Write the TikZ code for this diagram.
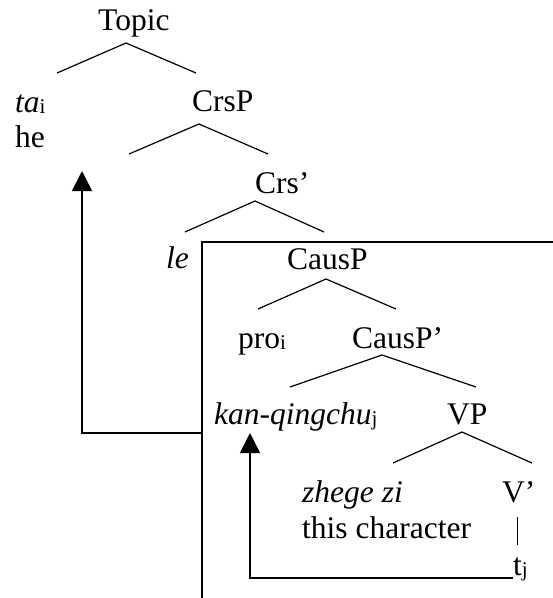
\documentclass[tikz,border=0pt]{standalone}
\usepackage{fontspec}
\setmainfont{Liberation Serif}
\usepackage{tikz}
\usetikzlibrary{arrows.meta}

\newcommand{\idx}[1]{\raisebox{-1.5pt}{\fontsize{21}{21}\selectfont #1}}

\begin{document}
\begin{tikzpicture}[
  x=1pt,y=-1pt,
  lbl/.style={anchor=base west,inner sep=0pt,font=\fontsize{31.5}{36}\selectfont},
  branch/.style={line width=1.2pt},
  frame/.style={line width=1.5pt},
  mv/.style={-{Triangle[width=20pt,length=20pt]},line width=1.5pt}
]
\useasboundingbox (0,0) rectangle (553,598);

% labels
\node[lbl] (topic) at (98,30) {Topic};
\node[lbl] (tai) at (15,112) {\textit{ta}\idx{i}};
\node[lbl] (he) at (15,147) {he};
\node[lbl] (crsp) at (192,111) {CrsP};
\node[lbl] (crsbar) at (255,193) {Crs’};
\node[lbl] (le) at (166,268) {\textit{le}};
\node[lbl] (causp) at (287,269) {CausP};
\node[lbl] (pro) at (238,348) {pro\idx{i}};
\node[lbl] (causbar) at (352,348) {CausP’};
\node[lbl] (kan) at (214,424) {\textit{kan-qingchu}\idx{j}};
\node[lbl] (vp) at (447,424) {VP};
\node[lbl] (zhege) at (302,502) {\textit{zhege zi}};
\node[lbl] (thischar) at (302,538) {this character};
\node[lbl] (vbar) at (502,502) {V’};
\node[lbl] (tj) at (513,575) {t\idx{j}};

% branches
\foreach \n/\ax/\ay/\lx/\rx/\fy in {topic/126/43/57/196/73,
    crsp/199/124/129/268/154, crsbar/255/201/185/324/232,
    causp/326/279/258/396/309, causbar/382/355/290/476/387,
    vp/462/432/393/532/463}{
  \coordinate (\n-top) at (\ax,\ay);
  \coordinate (\n-l) at (\lx,\fy);
  \coordinate (\n-r) at (\rx,\fy);
  \draw[branch] (\n-l) -- (\n-top) -- (\n-r);
}
\draw[line width=1pt] (517,517) -- (517,545);

% box
\coordinate (box-ne) at (553,242);
\coordinate (box-sw) at (202,598);
\draw[frame] (box-ne) -| (box-sw);

% movement arrows
\coordinate (ta-foot) at (202,433);
\coordinate (ta-tip) at (82,171);
\draw[mv] (ta-foot) -| (ta-tip);
\coordinate (tj-foot) at (513,578);
\coordinate (kan-tip) at (250,433);
\draw[mv] (tj-foot) -| (kan-tip);
\end{tikzpicture}
\end{document}
